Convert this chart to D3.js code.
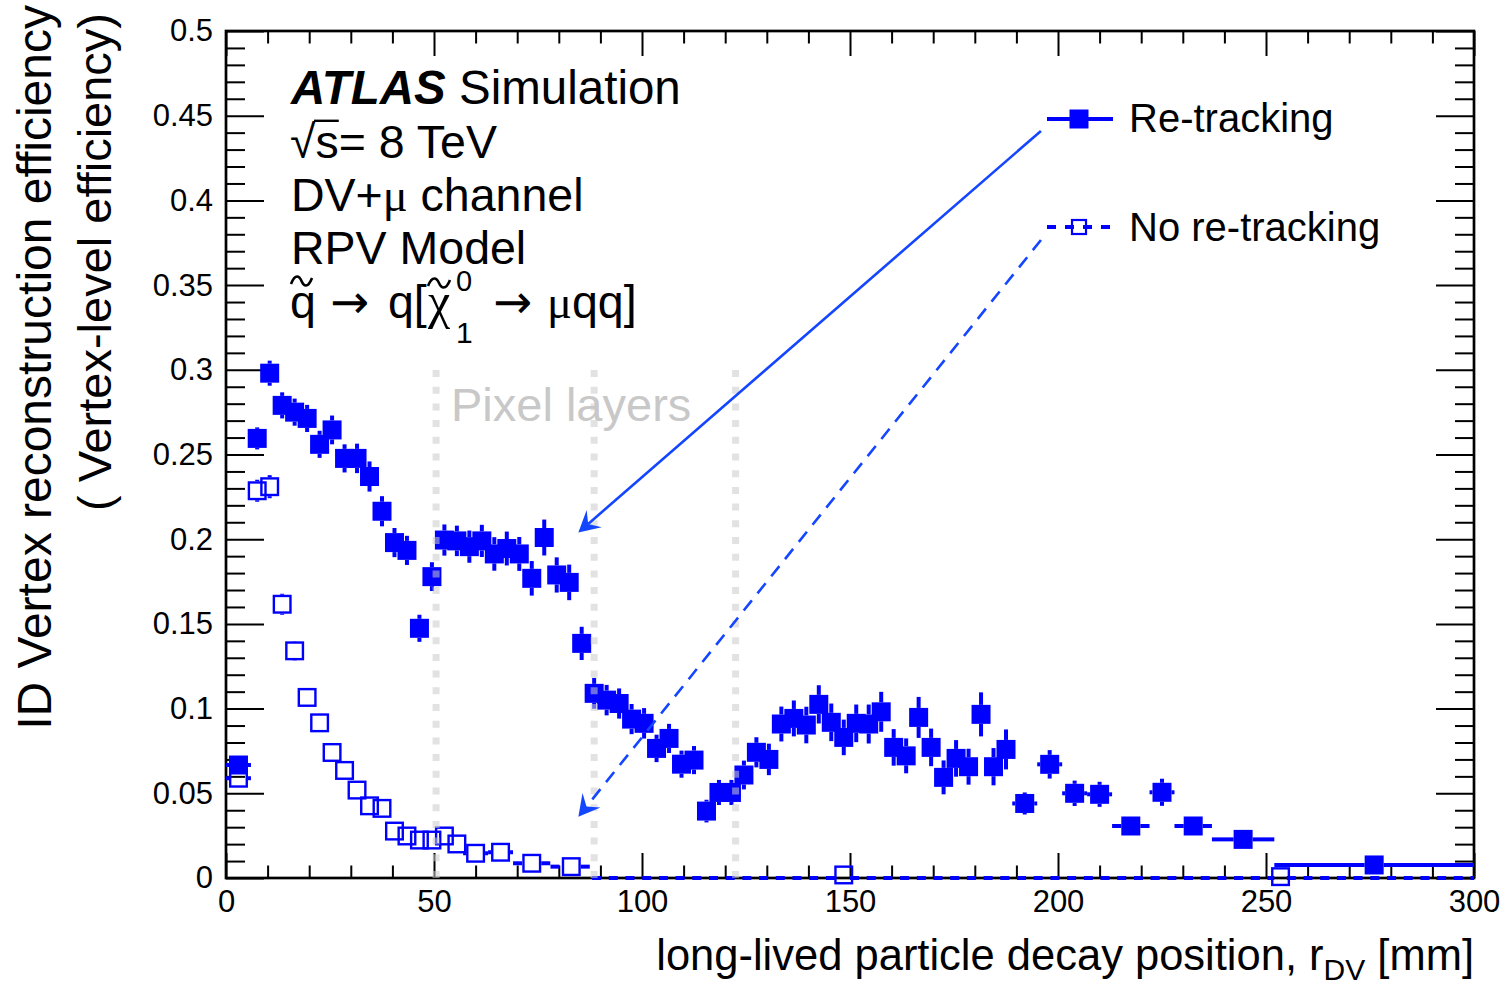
<!DOCTYPE html>
<html>
<head>
<meta charset="utf-8">
<script src="https://cdn.jsdelivr.net/npm/d3@7"></script>
<style>
  html, body { margin: 0; padding: 0; background: #fff; }
  svg { display: block; }
  text { font-family: "Liberation Sans", Arial, Helvetica, sans-serif; fill: #000; }
</style>
</head>
<body>
<svg id="chart" width="1508" height="986"></svg>
<script>
// ---- Re-tracking: bin edges [mm], efficiency and statistical error ----
const retrackEdges = [0, 6, 9, 12, 15, 18, 21, 24, 27, 30, 33, 36, 39, 42, 45, 48, 51, 54, 57, 60,
  63, 66, 69, 72, 75, 78, 81, 84, 87, 90, 93, 96, 99, 102, 105, 108, 111, 114, 117, 120, 123,
  126, 129, 132, 135, 138, 141, 144, 147, 150, 153, 156, 159, 162, 165, 168, 171, 174, 177,
  180, 183, 186, 189, 195, 201, 207, 213, 222, 228, 237, 252, 300];
const retrackEff = [0.0667, 0.2595, 0.298, 0.279, 0.275, 0.2713, 0.256, 0.2645, 0.2477, 0.2477,
  0.237, 0.2165, 0.198, 0.1934, 0.1474, 0.1779, 0.1995, 0.199, 0.1956, 0.199,
  0.1913, 0.1945, 0.1913, 0.1769, 0.201, 0.1789, 0.1745, 0.1385, 0.109, 0.105,
  0.103, 0.0938, 0.0913, 0.0765, 0.0824, 0.0672, 0.0696, 0.0395, 0.0505, 0.0505,
  0.0608, 0.0742, 0.070, 0.0909, 0.0942, 0.0903, 0.1025, 0.0919, 0.083, 0.0913,
  0.0909, 0.0981, 0.0771, 0.0721, 0.0948, 0.0771, 0.0594, 0.0706, 0.0657, 0.0966,
  0.0657, 0.0759, 0.044, 0.0671, 0.05, 0.0494, 0.0307, 0.0506, 0.0307, 0.0228, 0.0077];
const retrackErr = [0.004, 0.0065, 0.0074, 0.0077, 0.008, 0.008, 0.008, 0.0085, 0.0083, 0.0087,
  0.0089, 0.0089, 0.0086, 0.0086, 0.008, 0.0085, 0.0092, 0.009, 0.0095, 0.0095,
  0.0099, 0.01, 0.01, 0.0102, 0.0106, 0.0104, 0.0105, 0.0098, 0.0091, 0.009,
  0.0089, 0.0089, 0.009, 0.0081, 0.0086, 0.008, 0.0083, 0.0067, 0.0074, 0.0074,
  0.0085, 0.0089, 0.0093, 0.0103, 0.0106, 0.0108, 0.0113, 0.0111, 0.0105, 0.0111,
  0.0115, 0.0118, 0.0108, 0.0103, 0.0121, 0.0111, 0.01, 0.0108, 0.0106, 0.013,
  0.011, 0.0118, 0.0065, 0.0084, 0.0075, 0.0074, 0.004, 0.008, 0.004, 0.003, 0.002];

// ---- No re-tracking ----
const standardEdges = [0, 6, 9, 12, 15, 18, 21, 24, 27, 30, 33, 36, 39, 42, 45, 48, 51, 54, 57,
  63, 69, 78, 88, 147, 150, 252, 255, 300];
const standardEff = [0.0589, 0.2286, 0.231, 0.1616, 0.1341, 0.1066, 0.0916, 0.0741, 0.0635, 0.0519,
  0.0426, 0.0411, 0.0277, 0.0248, 0.0224, 0.0224, 0.0248, 0.0201,
  0.0146, 0.0152, 0.0087, 0.0067, 0, 0.0018, 0, 0.0008, 0];
const standardErr = [0.004, 0.0065, 0.0068, 0.0062, 0.0058, 0.0055, 0.005, 0.005, 0.005, 0.0045,
  0.004, 0.004, 0.0035, 0.0035, 0.003, 0.003, 0.003, 0.003,
  0.002, 0.002, 0.0015, 0.0015, 0, 0.001, 0, 0.0005, 0];

// ---- Pixel layer radii [mm] and axis ticks ----
const pixelLayers = [50.5, 88.5, 122.5];
const xMajorTicks = [0, 50, 100, 150, 200, 250, 300];
const yMajorTicks = [0, 0.05, 0.1, 0.15, 0.2, 0.25, 0.3, 0.35, 0.4, 0.45, 0.5];
const yTickLabels = ["0", "0.05", "0.1", "0.15", "0.2", "0.25", "0.3", "0.35", "0.4", "0.45", "0.5"];
const seriesNames = ["Re-tracking", "No re-tracking"];

// ---- Layout ----
const frame = { left: 226, right: 1474, top: 31, bottom: 878 };
const BLUE = "#0000ff";
const ARROW_BLUE = "#1446ff";
const MS = 9.5; // marker half size

const svg = d3.select("#chart");
const x = d3.scaleLinear().domain([0, 300]).range([frame.left, frame.right]);
const y = d3.scaleLinear().domain([0, 0.5]).range([frame.bottom, frame.top]);

// ---- Axes (ticks on all four sides, pointing inward) ----
function styleAxis(g) {
  g.select(".domain").remove();
  g.selectAll(".tick line").attr("stroke", "#000").attr("stroke-width", 2);
  g.selectAll(".tick text").attr("font-size", 31).attr("font-family", "Liberation Sans, Arial, sans-serif").attr("fill", "#000");
}
const yMinor = y.ticks(50).filter(v => !yMajorTicks.some(m => Math.abs(m - v) < 1e-9));
const xMinor = x.ticks(30).filter(v => !xMajorTicks.includes(v));

svg.append("g").attr("transform", `translate(${frame.left},0)`)
  .call(d3.axisLeft(y).tickValues(yMajorTicks).tickSize(-38).tickPadding(13)
    .tickFormat((d, i) => yTickLabels[i])).call(styleAxis);
svg.append("g").attr("transform", `translate(${frame.left},0)`)
  .call(d3.axisLeft(y).tickValues(yMinor).tickSize(-19).tickFormat("")).call(styleAxis);
svg.append("g").attr("transform", `translate(${frame.right},0)`)
  .call(d3.axisRight(y).tickValues(yMajorTicks).tickSize(-38).tickFormat("")).call(styleAxis);
svg.append("g").attr("transform", `translate(${frame.right},0)`)
  .call(d3.axisRight(y).tickValues(yMinor).tickSize(-19).tickFormat("")).call(styleAxis);

svg.append("g").attr("transform", `translate(0,${frame.bottom})`)
  .call(d3.axisBottom(x).tickValues(xMajorTicks).tickSize(-25).tickPadding(12)
    .tickFormat(d3.format("d"))).call(styleAxis);
svg.append("g").attr("transform", `translate(0,${frame.bottom})`)
  .call(d3.axisBottom(x).tickValues(xMinor).tickSize(-12.5).tickFormat("")).call(styleAxis);
svg.append("g").attr("transform", `translate(0,${frame.top})`)
  .call(d3.axisTop(x).tickValues(xMajorTicks).tickSize(-25).tickFormat("")).call(styleAxis);
svg.append("g").attr("transform", `translate(0,${frame.top})`)
  .call(d3.axisTop(x).tickValues(xMinor).tickSize(-12.5).tickFormat("")).call(styleAxis);

svg.append("rect")
  .attr("x", frame.left).attr("y", frame.top)
  .attr("width", frame.right - frame.left).attr("height", frame.bottom - frame.top)
  .attr("fill", "none").attr("stroke", "#000").attr("stroke-width", 2.7);

// ---- Histogram points with error bars (bars stop at the marker edge) ----
function drawSeries(edges, vals, errs, filled, dash) {
  const bins = vals.map((v, i) => ({ lo: edges[i], hi: edges[i + 1], v, e: errs[i] }));
  const g = svg.append("g");
  const segs = [];
  bins.forEach(b => {
    const cx = x((b.lo + b.hi) / 2), cy = y(b.v);
    const xl = x(b.lo), xh = x(b.hi);
    if (b.v > 0) {
      if (cx - MS > xl) segs.push([xl, cy, cx - MS, cy]);
      if (xh > cx + MS) segs.push([cx + MS, cy, xh, cy]);
      const yt = y(b.v + b.e), yb = y(b.v - b.e);
      if (cy - MS > yt) segs.push([cx, yt, cx, cy - MS]);
      if (yb > cy + MS) segs.push([cx, cy + MS, cx, yb]);
    } else {
      segs.push([xl, cy, xh, cy]);
    }
  });
  g.selectAll("line").data(segs).join("line")
    .attr("x1", d => d[0]).attr("y1", d => d[1]).attr("x2", d => d[2]).attr("y2", d => d[3])
    .attr("stroke", BLUE).attr("stroke-width", 4)
    .attr("stroke-dasharray", dash ? "9,7.7" : null);
  const pts = bins.filter(b => b.v > 0);
  g.selectAll("rect").data(pts).join("rect")
    .attr("x", b => x((b.lo + b.hi) / 2) - (filled ? MS : MS - 1.2))
    .attr("y", b => y(b.v) - (filled ? MS : MS - 1.2))
    .attr("width", filled ? 2 * MS : 2 * MS - 2.4)
    .attr("height", filled ? 2 * MS : 2 * MS - 2.4)
    .attr("fill", filled ? BLUE : "none")
    .attr("stroke", filled ? "none" : BLUE)
    .attr("stroke-width", filled ? 0 : 2.4);
}
drawSeries(standardEdges, standardEff, standardErr, false, true);
drawSeries(retrackEdges, retrackEff, retrackErr, true, false);

// ---- Pixel layer positions (translucent dotted verticals) ----
svg.append("g").selectAll("line").data(pixelLayers).join("line")
  .attr("x1", d => x(d)).attr("x2", d => x(d))
  .attr("y1", y(0)).attr("y2", y(0.3))
  .attr("stroke", "rgba(203,203,203,0.55)").attr("stroke-width", 7)
  .attr("stroke-dasharray", "7,9.7");

svg.append("text").attr("x", 451).attr("y", 421)
  .attr("font-size", 47).style("fill", "#c8c8c8").text("Pixel layers");

// ---- Arrows from the legend entries to the curves ----
function arrow(x0, y0, x1, y1, dashed) {
  const p0 = [x(x0), y(y0)], p1 = [x(x1), y(y1)];
  const dx = p1[0] - p0[0], dy = p1[1] - p0[1];
  const len = Math.hypot(dx, dy);
  const u = [dx / len, dy / len], n = [-u[1], u[0]];
  const L = 21, Wd = 11.5, notch = 13;
  svg.append("line")
    .attr("x1", p0[0]).attr("y1", p0[1])
    .attr("x2", p1[0] - u[0] * notch).attr("y2", p1[1] - u[1] * notch)
    .attr("stroke", ARROW_BLUE).attr("stroke-width", 2.6)
    .attr("stroke-dasharray", dashed ? "13,9" : null);
  const pts = [
    p1,
    [p1[0] - u[0] * L + n[0] * Wd, p1[1] - u[1] * L + n[1] * Wd],
    [p1[0] - u[0] * notch, p1[1] - u[1] * notch],
    [p1[0] - u[0] * L - n[0] * Wd, p1[1] - u[1] * L - n[1] * Wd]
  ];
  svg.append("path").attr("d", "M" + pts.map(p => p.join(",")).join("L") + "Z")
    .attr("fill", ARROW_BLUE);
}
arrow(195.9, 0.441, 84.7, 0.204, false);
arrow(195.9, 0.3766, 84.7, 0.0362, true);

// ---- Legend ----
const legend = svg.append("g");
legend.append("line").attr("x1", 1047).attr("x2", 1113).attr("y1", 119).attr("y2", 119)
  .attr("stroke", BLUE).attr("stroke-width", 4);
legend.append("rect").attr("x", 1079 - MS).attr("y", 119 - MS).attr("width", 2 * MS).attr("height", 2 * MS)
  .attr("fill", BLUE);
legend.append("line").attr("x1", 1047).attr("x2", 1113).attr("y1", 227).attr("y2", 227)
  .attr("stroke", BLUE).attr("stroke-width", 4).attr("stroke-dasharray", "9,9");
legend.append("rect").attr("x", 1079 - MS + 2.5).attr("y", 227 - MS + 2.5)
  .attr("width", 2 * MS - 5).attr("height", 2 * MS - 5)
  .attr("fill", "none").attr("stroke", BLUE).attr("stroke-width", 2.2);
legend.selectAll("text.lab").data(seriesNames).join("text").attr("class", "lab")
  .attr("x", 1129).attr("y", (d, i) => [132, 241][i])
  .attr("font-size", 40).text(d => d);

// ---- Labels block ----
const FS = 46.5, TX = 291;
const greek = "Liberation Serif, DejaVu Serif, serif";
const arrowFont = "DejaVu Sans, Liberation Sans, sans-serif";
const t1 = svg.append("text").attr("x", TX).attr("y", 104).attr("font-size", 47.5);
t1.append("tspan").attr("font-weight", "bold").attr("font-style", "italic").text("ATLAS");
t1.append("tspan").text(" Simulation");

const t2 = svg.append("text").attr("x", TX - 1).attr("y", 158).attr("font-size", FS);
t2.append("tspan").text("\u221A");
t2.append("tspan").text("s= 8 TeV");
{
  const e0 = t2.node().getExtentOfChar(0), e1 = t2.node().getExtentOfChar(1);
  svg.append("line").attr("x1", e0.x + e0.width - 1.5).attr("x2", e1.x + e1.width)
    .attr("y1", 158 - 0.8 * FS).attr("y2", 158 - 0.8 * FS)
    .attr("stroke", "#000").attr("stroke-width", 2.4);
}

const t3 = svg.append("text").attr("x", TX).attr("y", 211).attr("font-size", FS);
t3.append("tspan").text("DV+");
t3.append("tspan").style("font-family", greek).text("\u03BC");
t3.append("tspan").text(" channel");

svg.append("text").attr("x", TX).attr("y", 264).attr("font-size", FS).text("RPV Model");

// decay chain: squark -> q [neutralino -> mu q q]
const B5 = 318;
const t5 = svg.append("text").attr("y", B5).attr("font-size", FS);
t5.append("tspan").attr("x", 290).text("q");
t5.append("tspan").attr("x", 330).style("font-family", arrowFont).text("\u2192");
t5.append("tspan").attr("x", 388).text("q[");
t5.append("tspan").attr("x", 428).attr("font-size", 50).style("font-family", greek).text("\u03C7");
t5.append("tspan").attr("x", 493).style("font-family", arrowFont).text("\u2192");
t5.append("tspan").attr("x", 547).style("font-family", greek).text("\u03BC");
t5.append("tspan").text("qq]");
svg.append("text").attr("x", 456).attr("y", 291).attr("font-size", 29).text("0");
svg.append("text").attr("x", 456).attr("y", 343).attr("font-size", 30).text("1");
{
  const tilde = (x0, w, cyy) => {
    const a = w / 2, cx = x0 + a;
    svg.append("path")
      .attr("d", `M${cx - a},${cyy + 3} C${cx - a * 0.6},${cyy - 8} ${cx - a * 0.2},${cyy - 5} ${cx},${cyy}` +
                 ` S${cx + a * 0.6},${cyy + 8} ${cx + a},${cyy - 3}`)
      .attr("fill", "none").attr("stroke", "#000").attr("stroke-width", 2.6);
  };
  tilde(291, 21, 281);
  tilde(428, 22, 283);
}

// ---- Axis titles ----
const xt = svg.append("text").attr("x", frame.right).attr("y", 970)
  .attr("text-anchor", "end").attr("font-size", 43.5);
xt.append("tspan").text("long-lived particle decay position, r");
xt.append("tspan").attr("font-size", 30).attr("dy", 10).text("DV");
xt.append("tspan").attr("dy", -10).text(" [mm]");

svg.append("text").attr("transform", "translate(51,5) rotate(-90)")
  .attr("text-anchor", "end").attr("font-size", 48)
  .text("ID Vertex reconstruction efficiency");
svg.append("text").attr("transform", "translate(111,13) rotate(-90)")
  .attr("text-anchor", "end").attr("font-size", 47)
  .text("( Vertex-level efficiency)");
</script>
</body>
</html>
